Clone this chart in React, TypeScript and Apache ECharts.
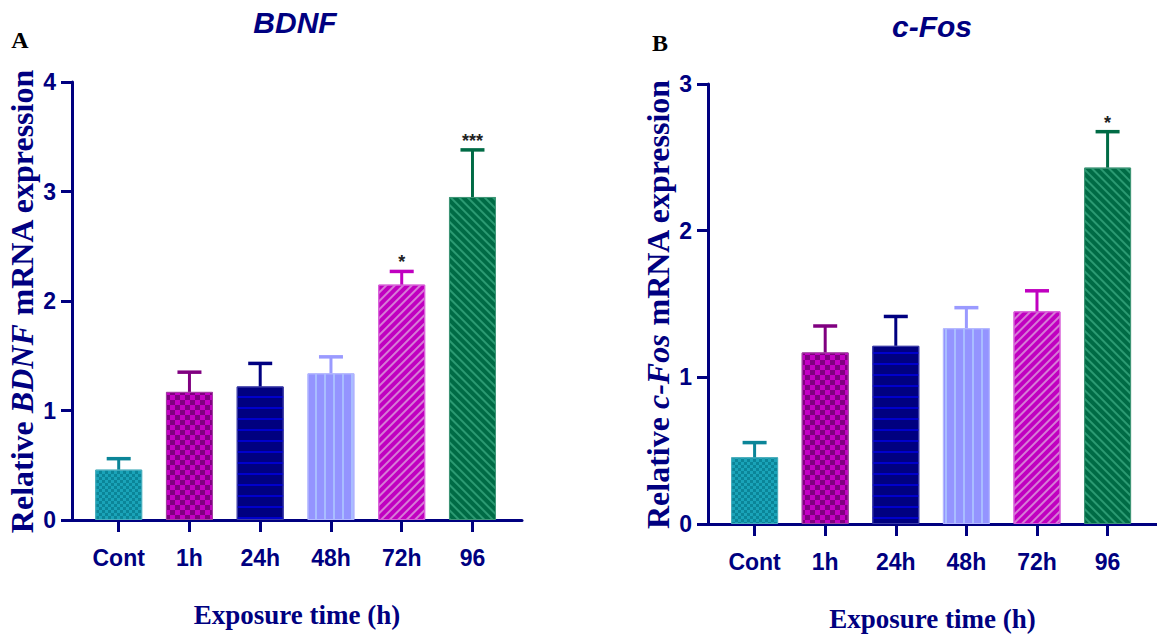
import React, { useEffect, useRef } from "react";
import * as echarts from "echarts";

// ---------- data ----------
const categories = ["Cont", "1h", "24h", "48h", "72h", "96"];
const bdnfMean = [0.46, 1.17, 1.22, 1.34, 2.15, 2.95];
const bdnfSem = [0.1, 0.18, 0.21, 0.15, 0.12, 0.43];
const bdnfSig = ["", "", "", "", "*", "***"];
const cfosMean = [0.455, 1.17, 1.215, 1.335, 1.45, 2.43];
const cfosSem = [0.1, 0.18, 0.2, 0.14, 0.14, 0.245];
const cfosSig = ["", "", "", "", "", "*"];
const bdnfYMax = 4;
const cfosYMax = 3;
const xTickValues = [0, 1, 2, 3, 4, 5];

// ---------- styles ----------
const NAVY = "#000080";
const baseColors = ["#0b8598", "#800080", "#000080", "#9494ff", "#c000c0", "#006b45"];
const borderColors = ["#49aebd", "#a040a0", "#3a3aa6", "#b4b8ff", "#d860d8", "#3f9677"];
const errColors = ["#0b8598", "#800080", "#000080", "#9a9aff", "#c000c0", "#006b45"];
const decals: any[] = [
  { symbol: "rect", color: "#1aa3b8", dashArrayX: [[3, 3], [0, 3, 3, 0]], dashArrayY: [3, 0] },
  { symbol: "rect", color: "#c400c4", dashArrayX: [[5, 5], [0, 5, 5, 0]], dashArrayY: [5, 0] },
  { symbol: "rect", color: "#0000cc", dashArrayX: [1, 0], dashArrayY: [2, 9] },
  { symbol: "rect", color: "#a9bdff", dashArrayX: [2, 7], dashArrayY: [1, 0] },
  { symbol: "rect", color: "#d67ad6", dashArrayX: [1, 0], dashArrayY: [2, 4], rotation: -Math.PI / 4 },
  { symbol: "rect", color: "#2b9a72", dashArrayX: [1, 0], dashArrayY: [2, 4], rotation: Math.PI / 4 },
];

const SANS = '"Liberation Sans", Arial, sans-serif';
const SERIF = '"Liberation Serif", "Times New Roman", serif';

function xAxisFor(gridIndex: number) {
  return {
    type: "value",
    gridIndex,
    min: -0.66,
    max: 5.7,
    name: "Exposure time (h)",
    nameLocation: "middle",
    nameGap: 81,
    nameTextStyle: { fontFamily: SERIF, fontWeight: "bold", fontSize: 27, color: NAVY },
    axisLine: { show: true, onZero: false, lineStyle: { color: NAVY, width: 3 } },
    axisTick: { show: true, inside: false, length: 12, customValues: xTickValues, lineStyle: { color: NAVY, width: 3 } },
    axisLabel: {
      show: true,
      customValues: xTickValues,
      margin: 26,
      fontFamily: SANS,
      fontWeight: "bold",
      fontSize: 23,
      color: NAVY,
      formatter: (v: number) => categories[Math.round(v)] ?? "",
    },
    splitLine: { show: false },
  };
}

function yAxisFor(gridIndex: number, max: number, gene: string) {
  return {
    type: "value",
    gridIndex,
    min: 0,
    max,
    interval: 1,
    name: "Relative {i|" + gene + "} mRNA expression",
    nameLocation: "middle",
    nameGap: 34,
    nameTextStyle: {
      fontFamily: SERIF,
      fontWeight: "bold",
      fontSize: 32,
      color: NAVY,
      rich: {
        i: { fontFamily: SERIF, fontWeight: "bold", fontStyle: "italic", fontSize: 32, color: NAVY },
      },
    },
    axisLine: { show: true, onZero: false, lineStyle: { color: NAVY, width: 3 } },
    axisTick: { show: true, inside: false, length: 11, lineStyle: { color: NAVY, width: 3 } },
    axisLabel: { margin: 16, fontFamily: SANS, fontWeight: "bold", fontSize: 23, color: NAVY },
    splitLine: { show: false },
  };
}

function barSeries(idx: number, mean: number[]) {
  return {
    type: "bar",
    xAxisIndex: idx,
    yAxisIndex: idx,
    barWidth: 47,
    z: 2,
    data: mean.map((v, i) => ({
      value: [i, v],
      itemStyle: {
        color: baseColors[i],
        borderColor: borderColors[i],
        borderWidth: 1,
        decal: decals[i],
      },
    })),
  };
}

function errSeries(idx: number, mean: number[], sem: number[], sig: string[]) {
  return {
    type: "custom",
    xAxisIndex: idx,
    yAxisIndex: idx,
    z: 3,
    encode: { x: 0, y: [1, 2] },
    data: mean.map((v, i) => [i, v, v + sem[i]]),
    renderItem: (params: any, api: any) => {
      const i = api.value(0);
      const p0 = api.coord([i, api.value(1)]);
      const p1 = api.coord([i, api.value(2)]);
      const c = errColors[params.dataIndex];
      const s = sig[params.dataIndex];
      const children: any[] = [
        { type: "line", shape: { x1: p0[0], y1: p0[1], x2: p1[0], y2: p1[1] }, style: { stroke: c, lineWidth: 3 } },
        { type: "line", shape: { x1: p1[0] - 12, y1: p1[1], x2: p1[0] + 12, y2: p1[1] }, style: { stroke: c, lineWidth: 3.5 } },
      ];
      if (s) {
        children.push({
          type: "text",
          x: p1[0],
          y: p1[1],
          style: {
            text: s,
            fill: "#222222",
            font: "bold 18px " + SANS,
            align: "center",
            verticalAlign: "bottom",
            textAlign: "center",
            textVerticalAlign: "bottom",
          },
        });
      }
      return { type: "group", children };
    },
  };
}

function textEl(text: string, x: number, y: number, font: string, fill: string) {
  return {
    type: "text",
    x,
    y,
    style: {
      text,
      font,
      fill,
      align: "center",
      verticalAlign: "middle",
      textAlign: "center",
      textVerticalAlign: "middle",
    },
  };
}

export default function App() {
  const ref = useRef<HTMLDivElement>(null);
  useEffect(() => {
    if (!ref.current) return;
    const chart = echarts.init(ref.current, undefined, { renderer: "svg" });
    chart.setOption({
      animation: false,
      backgroundColor: "#ffffff",
      grid: [
        { left: 72, top: 82, width: 450, height: 438 },
        { left: 708, top: 84, width: 449, height: 440 },
      ],
      xAxis: [xAxisFor(0), xAxisFor(1)],
      yAxis: [yAxisFor(0, bdnfYMax, "BDNF"), yAxisFor(1, cfosYMax, "c-Fos")],
      series: [
        barSeries(0, bdnfMean),
        errSeries(0, bdnfMean, bdnfSem, bdnfSig),
        barSeries(1, cfosMean),
        errSeries(1, cfosMean, cfosSem, cfosSig),
      ],
      graphic: [
        textEl("BDNF", 295, 22, "italic bold 30px " + SANS, NAVY),
        textEl("c-Fos", 932, 26, "italic bold 30px " + SANS, NAVY),
        textEl("A", 20, 40, "bold 24px " + SERIF, "#000000"),
        textEl("B", 660, 43, "bold 24px " + SERIF, "#000000"),
      ],
    });
    return () => chart.dispose();
  }, []);
  return (
    <div
      ref={ref}
      style={{ position: "absolute", left: 0, top: 0, width: 1157, height: 641, background: "#fff" }}
    />
  );
}
